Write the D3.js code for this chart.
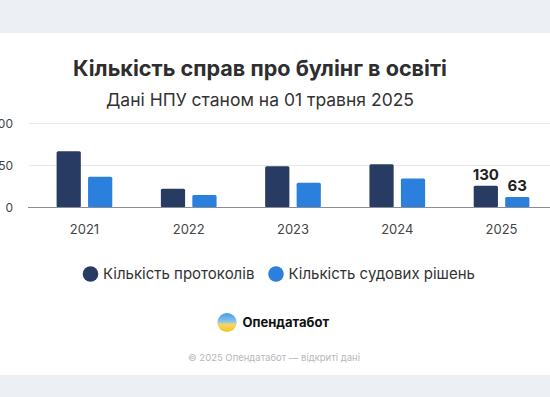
<!DOCTYPE html>
<html>
<head>
<meta charset="utf-8">
<script src="https://cdn.jsdelivr.net/npm/d3@7"></script>
<style>
  html, body { margin: 0; padding: 0; background: #fff; }
  svg { display: block; font-family: Inter, "Noto Sans", sans-serif; }
</style>
</head>
<body>
<div id="chart"></div>
<script>
const years = ['2021', '2022', '2023', '2024', '2025'];
const series = ['Кількість протоколів', 'Кількість судових рішень'];
const protocols = [335, 112, 245, 257, 130];
const decisions = [183, 74, 148, 172, 63];
const yTicks = [0, 250, 500];
const colors = ['#283b62', '#2b7fdd'];

const width = 550;
const height = 397;

const svg = d3.select('#chart').append('svg')
  .attr('width', width)
  .attr('height', height);

// grey page bands top and bottom
svg.append('rect').attr('x', 0).attr('y', 0).attr('width', width).attr('height', 33).attr('fill', '#eceff3');
svg.append('rect').attr('x', 0).attr('y', 375).attr('width', width).attr('height', 22).attr('fill', '#eceff3');

svg.append('text')
  .attr('x', 260).attr('y', 76)
  .attr('text-anchor', 'middle')
  .attr('font-size', 21.6).attr('font-weight', 700)
  .attr('fill', '#2e2e2e')
  .text('Кількість справ про булінг в освіті');

svg.append('text')
  .attr('x', 260).attr('y', 106)
  .attr('text-anchor', 'middle')
  .attr('font-size', 17.5)
  .attr('fill', '#333')
  .text('Дані НПУ станом на 01 травня 2025');

const x0 = d3.scaleBand().domain(years).range([8, 578]).padding(0.466);
const x1 = d3.scaleBand().domain(series).range([0, x0.bandwidth()]).paddingInner(0.23);
const y = d3.scaleLinear().domain([0, 500]).range([207.5, 123.5]);

// grid
svg.append('g')
  .selectAll('line')
  .data(yTicks.filter(d => d > 0))
  .enter().append('line')
  .attr('x1', 29).attr('x2', width)
  .attr('y1', d => y(d)).attr('y2', d => y(d))
  .attr('stroke', '#e6e8eb')
  .attr('stroke-width', 1);

// tick labels are cut by the left edge, as in the screenshot
svg.append('g')
  .selectAll('text')
  .data(yTicks)
  .enter().append('text')
  .attr('x', 13)
  .attr('y', d => y(d))
  .attr('dy', '0.35em')
  .attr('text-anchor', 'end')
  .attr('font-size', 12)
  .attr('fill', '#444')
  .text(d => d);

const rows = years.map((yr, i) => ({ year: yr, values: [protocols[i], decisions[i]] }));

const groups = svg.append('g')
  .selectAll('g')
  .data(rows)
  .enter().append('g')
  .attr('transform', d => `translate(${x0(d.year)},0)`);

groups.selectAll('rect')
  .data(d => d.values.map((v, j) => ({ key: series[j], value: v, j })))
  .enter().append('rect')
  .attr('x', d => x1(d.key))
  .attr('y', d => y(d.value))
  .attr('width', x1.bandwidth())
  .attr('height', d => y(0) - y(d.value))
  .attr('rx', 1.5)
  .attr('fill', d => colors[d.j]);

// value labels only on the last year
const last = rows[rows.length - 1];
svg.append('g')
  .selectAll('text')
  .data(last.values.map((v, j) => ({ key: series[j], value: v })))
  .enter().append('text')
  .attr('x', d => x0(last.year) + x1(d.key) + x1.bandwidth() / 2)
  .attr('y', d => y(d.value) - 6)
  .attr('text-anchor', 'middle')
  .attr('font-size', 15).attr('font-weight', 700)
  .attr('fill', '#222')
  .text(d => d.value);

// baseline
svg.append('line')
  .attr('x1', 28).attr('x2', width)
  .attr('y1', y(0)).attr('y2', y(0))
  .attr('stroke', '#8a8d93')
  .attr('stroke-width', 1);

svg.append('g')
  .selectAll('text')
  .data(years)
  .enter().append('text')
  .attr('x', d => x0(d) + x0.bandwidth() / 2)
  .attr('y', 229)
  .attr('dy', '0.35em')
  .attr('text-anchor', 'middle')
  .attr('font-size', 13)
  .attr('fill', '#444')
  .text(d => d);

// legend
const legendX = [90.5, 276];
const legend = svg.append('g')
  .selectAll('g')
  .data(series)
  .enter().append('g')
  .attr('transform', (d, i) => `translate(${legendX[i]},274)`);
legend.append('circle').attr('r', 7.8).attr('fill', (d, i) => colors[i]);
legend.append('text')
  .attr('x', 12.5).attr('dy', '0.35em')
  .attr('font-size', 15)
  .attr('fill', '#333')
  .text(d => d);

// logo
const defs = svg.append('defs');
const grad = defs.append('linearGradient').attr('id', 'logoGrad').attr('x1', 0).attr('y1', 0).attr('x2', 0).attr('y2', 1);
grad.append('stop').attr('offset', '0%').attr('stop-color', '#3d9be9');
grad.append('stop').attr('offset', '45%').attr('stop-color', '#8cc3e8');
grad.append('stop').attr('offset', '60%').attr('stop-color', '#f3d66a');
grad.append('stop').attr('offset', '100%').attr('stop-color', '#f5c518');
svg.append('circle').attr('cx', 227).attr('cy', 322.5).attr('r', 9.6).attr('fill', 'url(#logoGrad)');
svg.append('text')
  .attr('x', 242.5).attr('y', 322.5).attr('dy', '0.35em')
  .attr('font-size', 13).attr('font-weight', 700)
  .attr('fill', '#111')
  .text('Опендатабот');

svg.append('text')
  .attr('x', 274).attr('y', 357.5).attr('dy', '0.35em')
  .attr('text-anchor', 'middle')
  .attr('font-size', 9.5)
  .attr('fill', '#b5b7bb')
  .text('© 2025 Опендатабот — відкриті дані');
</script>
</body>
</html>
